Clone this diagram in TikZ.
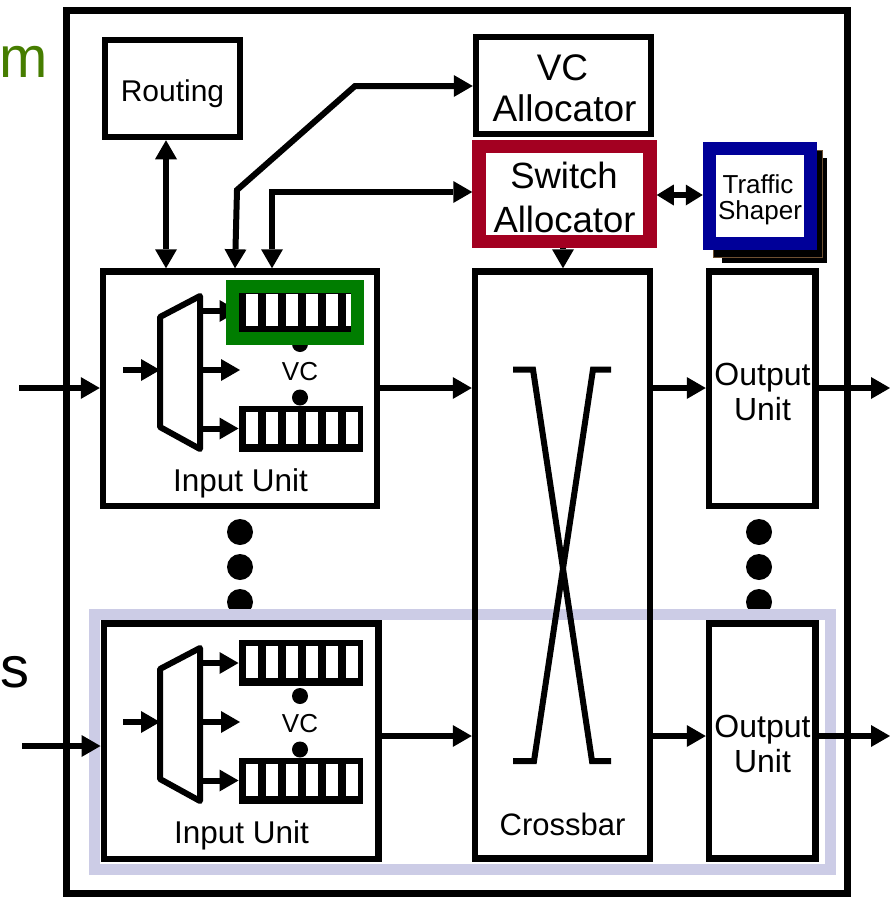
\documentclass[tikz,border=0pt]{standalone}
\usepackage{fontspec}
\setmainfont{Liberation Sans}
\usetikzlibrary{arrows.meta}
\definecolor{sared}{RGB}{163,0,33}
\definecolor{tsblue}{RGB}{0,0,153}
\definecolor{vcgreen}{RGB}{0,125,0}
\definecolor{lav}{RGB}{204,204,230}
\definecolor{slidegreen}{RGB}{70,125,0}
\definecolor{shadowedge}{RGB}{110,80,50}
\newcommand\myfs[1]{\fontsize{#1}{#1}\selectfont}
\tikzset{
  blk/.style={draw, line width=6.5pt, inner sep=0pt},
  flow/.style={line width=6pt, -{Triangle[length=19pt,width=22pt,line width=0pt]}},
  dflow/.style={line width=6pt, {Triangle[length=19pt,width=22pt,line width=0pt]}-{Triangle[length=19pt,width=22pt,line width=0pt]}},
  lbl/.style={anchor=base, inner sep=0pt},
  buf/.style={fill=black, inner sep=0pt, outer sep=0pt, minimum width=124.5pt, minimum height=46pt}
}
\begin{document}
\begin{tikzpicture}[x=1pt,y=-1pt,line join=miter]
\useasboundingbox (0,0) rectangle (890,897);
% slide text at the left edge
\node[anchor=base west, inner sep=0pt, text=slidegreen, font=\myfs{58}] (sm) at (-1,77) {m};
\node[anchor=base west, inner sep=0pt, font=\myfs{58}] (ss) at (0,687) {s};
% outer frame
\node[draw, line width=7pt, inner sep=0pt, minimum width=781pt, minimum height=883pt] (frame) at (456.5,451.5) {};
% dots between units
\foreach \yy in {532,567,602}{
  \fill (240,\yy) circle (13pt);
  \fill (759,\yy) circle (13pt);
}
% highlight
\node[draw=lav, line width=11pt, inner sep=0pt, minimum width=736pt, minimum height=255pt] (hl) at (462.5,742) {};
% boxes
\node[blk, minimum width=135pt, minimum height=97pt] (route) at (172.5,88.5) {};
\node[lbl, font=\myfs{30}] (routeT) at (172.5,101.5) {Routing};
\node[blk, minimum width=175pt, minimum height=97pt] (vcalloc) at (563.5,85.5) {};
\node[lbl, font=\myfs{37}] (vcaT1) at (562.5,80) {VC};
\node[lbl, font=\myfs{37}] (vcaT2) at (564.5,121) {Allocator};
\node[draw=sared, line width=13.5pt, inner sep=0pt, minimum width=171pt, minimum height=95pt] (sa) at (564.5,194) {};
\node[lbl, font=\myfs{36.5}] (saT1) at (564,188) {Switch};
\node[lbl, font=\myfs{36.5}] (saT2) at (564.5,232) {Allocator};
% traffic shaper with stacked shadows
\fill (722,158) rectangle (827,263);
\filldraw[fill=black, draw=shadowedge, line width=1pt] (713,150) rectangle (822,257);
\node[draw=tsblue, fill=white, line width=13pt, inner sep=0pt, minimum width=101.5pt, minimum height=95pt] (ts) at (760,196) {};
\node[lbl, font=\myfs{26}] (tsT1) at (758,193) {Traffic};
\node[lbl, font=\myfs{26}] (tsT2) at (760,219) {Shaper};
% input units
\node[blk, minimum width=274pt, minimum height=234.5pt] (iua) at (240,388.75) {};
\node[blk, minimum width=274.5pt, minimum height=235.5pt] (iub) at (241,741.25) {};
\node[lbl, font=\myfs{31.5}] (iuaT) at (240.5,491) {Input Unit};
\node[lbl, font=\myfs{31.5}] (iubT) at (241.5,843) {Input Unit};
% crossbar
\node[blk, minimum width=175pt, minimum height=587pt] (xb) at (562.5,565) {};
\node[lbl, font=\myfs{31}] (xbT) at (562.5,835) {Crossbar};
\draw[line width=6pt] (513,369.5) -- (533,369.5) -- (592,761) -- (611,761);
\draw[line width=6pt] (611,369.5) -- (593,369.5) -- (534,761) -- (513,761);
% output units
\node[blk, minimum width=106.5pt, minimum height=234.5pt] (oua) at (762.25,388.75) {};
\node[blk, minimum width=106.5pt, minimum height=235pt] (oub) at (762.25,741) {};
\node[lbl, font=\myfs{32}] (ouaT1) at (762.5,385) {Output};
\node[lbl, font=\myfs{32}] (ouaT2) at (762.5,420) {Unit};
\node[lbl, font=\myfs{32}] (oubT1) at (762.5,737) {Output};
\node[lbl, font=\myfs{32}] (oubT2) at (762.5,772) {Unit};
% input unit internals
\foreach \dy/\u in {0/a,352/b}{
  \begin{scope}[shift={(0,\dy)}]
    \node[buf] (bt\u) at (300.75,311) {};
    \node[buf] (bb\u) at (300.75,428.5) {};
    \foreach \i in {0,...,5}{
      \fill[white] (246+20*\i,294) rectangle ++(12,32);
      \fill[white] (246+20*\i,411.5) rectangle ++(12,32);
    }
    \fill (300,344) circle (8pt);
    \fill (300,397.5) circle (8pt);
    \draw[line width=6pt, line join=round] (160,317) -- (200,296) -- (200,449) -- (160,427) -- cycle;
    \coordinate (di\u) at (123,370);
    \coordinate (dl\u) at (160,370);
    \coordinate (dr\u) at (200,370);
    \coordinate (dm\u) at (240,370);
    \draw[flow] (di\u) -- (dl\u);
    \draw[flow] (dr\u |- bt\u) -- (bt\u.west);
    \draw[flow] (dr\u) -- (dm\u);
    \draw[flow] (dr\u |- bb\u) -- (bb\u.west);
    \node[lbl, font=\myfs{26}] (vclbl\u) at (300,380) {VC};
  \end{scope}
}
% green highlight of one VC buffer
\node[draw=vcgreen, line width=13pt, inner sep=0pt, minimum width=125pt, minimum height=51.5pt] (hlvc) at (295,312.25) {};
% data flow
\coordinate (L1) at (0,388);
\coordinate (L2) at (0,736);
\coordinate (ina) at (19,388);
\coordinate (inb) at (22,746);
\coordinate (outa) at (890,388);
\coordinate (outb) at (890,736);
\draw[flow] (ina) -- (ina -| iua.west);
\draw[flow] (inb) -- (inb -| iub.west);
\draw[flow] (iua.east |- L1) -- (xb.west |- L1);
\draw[flow] (iub.east |- L2) -- (xb.west |- L2);
\draw[flow] (xb.east |- L1) -- (oua.west |- L1);
\draw[flow] (xb.east |- L2) -- (oub.west |- L2);
\draw[flow] (oua.east |- outa) -- (outa);
\draw[flow] (oub.east |- outb) -- (outb);
% control connections
\coordinate (c4) at (166,0);
\draw[dflow] (route.south -| c4) -- (iua.north -| c4);
\coordinate (x235) at (235,0);
\coordinate (c1) at (237,190);
\coordinate (c2) at (355,86);
\draw[dflow] (iua.north -| x235) -- (c1) -- (c2) -- (c2 -| vcalloc.west);
\coordinate (c3) at (272,192);
\draw[dflow] (iua.north -| c3) -- (c3) -- (c3 -| sa.west);
\coordinate (c5) at (0,195);
\draw[line width=6pt, {Triangle[length=17pt,width=21pt,line width=0pt]}-{Triangle[length=17pt,width=21pt,line width=0pt]}] (sa.east |- c5) -- (ts.west |- c5);
\coordinate (c6) at (563,0);
\draw[flow] (sa.south -| c6) -- (xb.north -| c6);
\end{tikzpicture}
\end{document}
